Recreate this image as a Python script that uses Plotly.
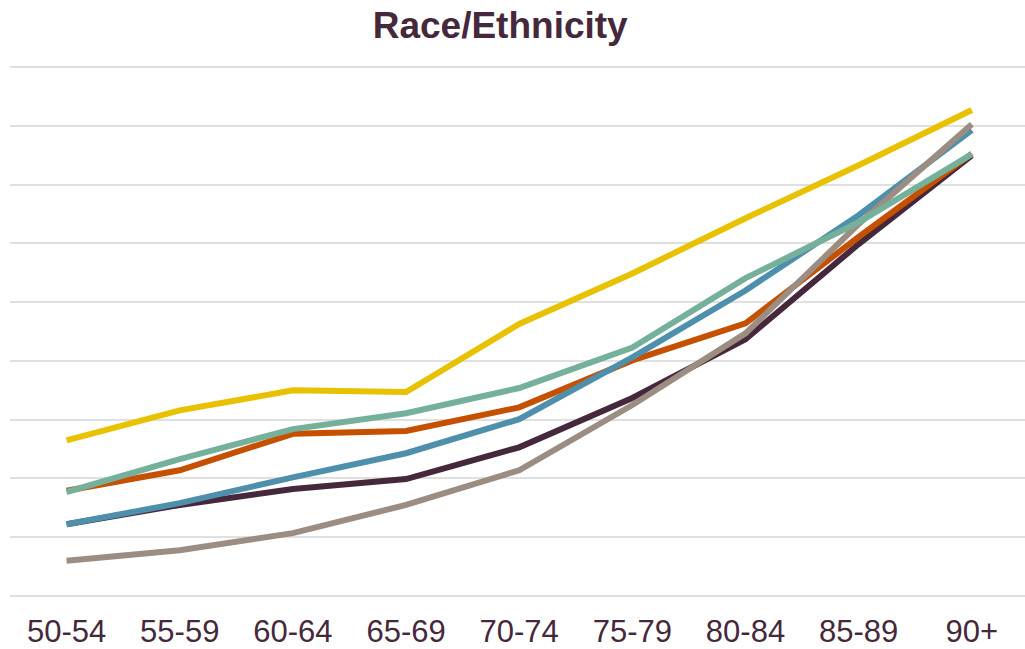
import plotly.graph_objects as go

age_groups = ["50-54", "55-59", "60-64", "65-69", "70-74", "75-79", "80-84", "85-89", "90+"]

series_yellow = [2.65, 3.16, 3.50, 3.47, 4.63, 5.49, 6.43, 7.33, 8.27]
series_dark = [1.22, 1.55, 1.82, 1.99, 2.53, 3.37, 4.37, 5.99, 7.50]
series_orange = [1.79, 2.14, 2.76, 2.81, 3.21, 4.01, 4.64, 6.11, 7.53]
series_blue = [1.22, 1.58, 2.02, 2.43, 3.01, 4.06, 5.20, 6.48, 7.93]
series_teal = [1.77, 2.33, 2.84, 3.11, 3.54, 4.23, 5.41, 6.36, 7.52]
series_gray = [0.60, 0.78, 1.07, 1.55, 2.14, 3.25, 4.47, 6.33, 8.03]

traces = [
    ("Group A", series_dark, "#45283C"),
    ("Group B", series_orange, "#C55000"),
    ("Group C", series_blue, "#4E8FAB"),
    ("Group E", series_gray, "#9B8D81"),
    ("Group D", series_teal, "#74B09A"),
    ("Group F", series_yellow, "#E8C200"),
]

fig = go.Figure()
for name, vals, color in traces:
    fig.add_trace(go.Scatter(x=age_groups, y=vals, mode="lines", name=name,
                             line=dict(color=color, width=6)))

fig.update_layout(
    width=1025, height=649,
    paper_bgcolor="white", plot_bgcolor="white",
    margin=dict(l=10, r=0, t=66, b=53, autoexpand=False),
    showlegend=False,
    title=dict(text="<b>Race/Ethnicity</b>", x=0.488, xanchor="center", y=0.962, yanchor="middle",
               font=dict(family="Liberation Sans, Arial", size=37, color="#45283C")),
    font=dict(family="Liberation Sans, Arial", color="#45283C"),
)
fig.update_xaxes(type="category", range=[-0.5, 8.47], showgrid=False, showline=False, ticks="",
                 automargin=False, ticklabelstandoff=14,
                 tickfont=dict(size=31, color="#45283C"))
fig.update_yaxes(range=[0, 9.02], dtick=1, showgrid=True, gridcolor="#E0E0E0", gridwidth=2,
                 automargin=False,
                 showticklabels=False, zeroline=True, zerolinecolor="#E0E0E0", zerolinewidth=2,
                 showline=False)

fig.write_html("out.html", config={"displayModeBar": False},
               post_script="document.body.style.margin='0';document.body.style.overflow='hidden';")
